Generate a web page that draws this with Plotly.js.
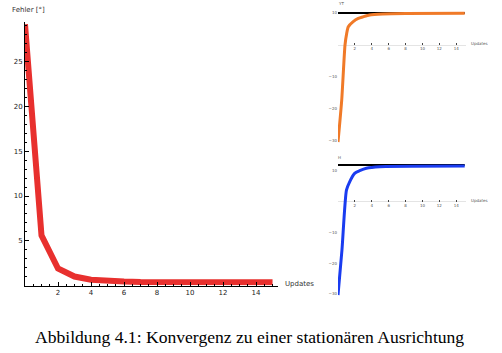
<!DOCTYPE html>
<html><head><meta charset="utf-8">
<script src="https://cdn.plot.ly/plotly-3.0.1.min.js"></script>
<style>html,body{margin:0;padding:0;background:#fff}#c{width:502px;height:353px}</style>
</head><body><div id="c"></div>
<script>
// Main chart: error vs. updates
const updates = [0,1,2,3,4,5,6,7,8,9,10,11,12,13,14,15];
const fehler = [29.2,5.6,1.9,1.0,0.65,0.5,0.45,0.4,0.4,0.38,0.37,0.36,0.35,0.35,0.35,0.35];
// Inset 1 (orange)
const ins1X = [0,0.44,0.83,1.03,1.22,1.8,2.4,2.96,3.75,5.3,8,15];
const ins1Y = [-30.3,-17.2,0,3.65,5.7,7.3,8.3,8.8,9.4,9.7,9.85,9.9];
const ins1TargetX = [0,15];
const ins1TargetY = [10,10];
// Inset 2 (blue)
const ins2X = [0,0.47,1.0,1.38,1.97,2.57,3.36,4.93,15];
const ins2Y = [-30.4,-15.7,3.8,6.5,9.25,10.1,10.9,11.4,11.6];
const ins2TargetX = [0,15];
const ins2TargetY = [12,12];
const xTicks = [2,4,6,8,10,12,14];
const insYTicks = [10,-10,-20,-30];

const W=502,H=353;
const px=v=>v/W, py=v=>1-v/H;
const tf={family:'DejaVu Sans',size:7,color:'#222'};
const tfs={family:'DejaVu Sans',size:4,color:'#555'};

const traces=[
 {x:updates,y:fehler,type:'scatter',mode:'lines',line:{color:'#e8302e',width:6},xaxis:'x',yaxis:'y'},
 {x:ins1TargetX,y:ins1TargetY,type:'scatter',mode:'lines',line:{color:'#000',width:2},xaxis:'x2',yaxis:'y2'},
 {x:ins1X,y:ins1Y,type:'scatter',mode:'lines',line:{color:'#f07a28',width:3,shape:'spline',smoothing:0.6},xaxis:'x2',yaxis:'y2'},
 {x:ins2TargetX,y:ins2TargetY,type:'scatter',mode:'lines',line:{color:'#000',width:2},xaxis:'x3',yaxis:'y3'},
 {x:ins2X,y:ins2Y,type:'scatter',mode:'lines',line:{color:'#1a3cf0',width:3,shape:'spline',smoothing:0.6},xaxis:'x3',yaxis:'y3'}
];

const insX=(anchorPos)=>({domain:[px(338),px(466.4)],range:[0,15.2],anchor:'free',position:anchorPos,
  showline:false,zeroline:false,showgrid:false,tickvals:xTicks,ticks:'inside',ticklen:2,tickcolor:'#444',
  tickfont:tfs,fixedrange:true});

const layout={
 width:W,height:H,margin:{l:0,r:0,t:0,b:0},paper_bgcolor:'#fff',plot_bgcolor:'rgba(0,0,0,0)',showlegend:false,
 xaxis:{domain:[px(25),px(278)],range:[0,15.33],showline:true,linecolor:'#000',linewidth:1,zeroline:false,showgrid:false,
   tickvals:xTicks,ticks:'inside',ticklen:4,tickcolor:'#000',tickfont:tf,
   minor:{dtick:0.5,ticks:'inside',ticklen:2,tickcolor:'#000'},anchor:'y'},
 yaxis:{domain:[py(285.5),py(22)],range:[0,29.44],showline:true,linecolor:'#000',linewidth:1,zeroline:false,showgrid:false,
   tickvals:[5,10,15,20,25],ticks:'inside',ticklen:4,tickcolor:'#000',tickfont:tf,
   minor:{dtick:1,ticks:'inside',ticklen:2,tickcolor:'#000'},anchor:'x'},
 xaxis2:insX(py(45)),
 yaxis2:{domain:[py(143),py(5)],range:[-30.6,12.5],anchor:'x2',showline:false,zeroline:true,zerolinecolor:'#e4e4e4',zerolinewidth:1,
   showgrid:false,tickvals:insYTicks,ticks:'',tickfont:tfs},
 xaxis3:insX(py(201.7)),
 yaxis3:{domain:[py(296),py(152)],range:[-30.7,16.2],anchor:'x3',showline:false,zeroline:true,zerolinecolor:'#e4e4e4',zerolinewidth:1,
   showgrid:false,tickvals:insYTicks,ticks:'',tickfont:tfs},
 annotations:[
  {text:'Fehler [°]',x:px(10),y:py(10),xref:'paper',yref:'paper',xanchor:'left',yanchor:'middle',showarrow:false,font:{family:'DejaVu Sans',size:7,color:'#333'}},
  {text:'Updates',x:px(283),y:py(284),xref:'paper',yref:'paper',xanchor:'left',yanchor:'middle',showarrow:false,font:{family:'DejaVu Sans',size:7,color:'#333'}},
  {text:'Updates',x:px(469),y:py(43),xref:'paper',yref:'paper',xanchor:'left',yanchor:'middle',showarrow:false,font:{family:'DejaVu Sans',size:4,color:'#555'}},
  {text:'Updates',x:px(469),y:py(201),xref:'paper',yref:'paper',xanchor:'left',yanchor:'middle',showarrow:false,font:{family:'DejaVu Sans',size:4,color:'#555'}},
  {text:'YT',x:px(336),y:py(4),xref:'paper',yref:'paper',xanchor:'left',yanchor:'middle',showarrow:false,font:{family:'DejaVu Sans',size:4,color:'#555'}},
  {text:'H',x:px(336),y:py(157),xref:'paper',yref:'paper',xanchor:'left',yanchor:'middle',showarrow:false,font:{family:'DejaVu Sans',size:4,color:'#555'}},
  {text:'Abbildung 4.1: Konvergenz zu einer stationären Ausrichtung',x:px(249),y:py(337),xref:'paper',yref:'paper',xanchor:'center',yanchor:'middle',showarrow:false,font:{family:'Liberation Serif',size:17.6,color:'#000'}}
 ]
};
Plotly.newPlot('c',traces,layout,{staticPlot:true,displayModeBar:false});
</script></body></html>
